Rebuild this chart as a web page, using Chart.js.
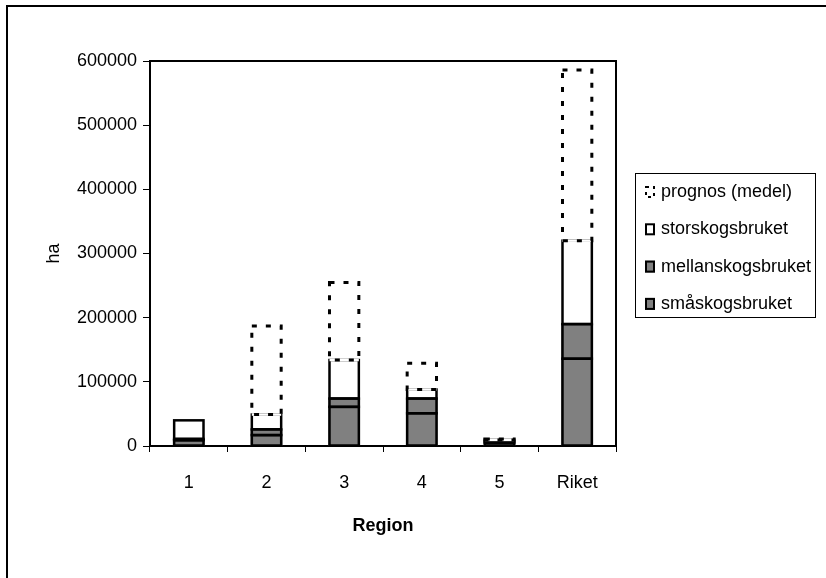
<!DOCTYPE html>
<html>
<head>
<meta charset="utf-8">
<script src="https://cdn.jsdelivr.net/npm/chart.js@4/dist/chart.umd.min.js"></script>
<style>
  body { margin: 0; background: #fff; }
  #wrap { width: 826px; height: 578px; }
</style>
</head>
<body>
<div id="wrap"><canvas id="myChart" width="826" height="578"></canvas></div>
<script>
// hektar per region, stapled
const regions = ["1", "2", "3", "4", "5", "Riket"];
const smaskog = [9000, 17000, 61000, 51000, 5000, 136000];
const mellanskog = [2000, 9000, 13000, 23000, 2000, 54000];
const storskog = [29000, 23000, 60000, 14000, 2500, 130000];
const prognos = [0, 138000, 121000, 41000, 1500, 266000];
const yTicks = [0, 100000, 200000, 300000, 400000, 500000, 600000];

Chart.defaults.font.family = "'Liberation Sans', Arial, sans-serif";
Chart.defaults.font.size = 18;
Chart.defaults.color = "#000";

// white page with the frame on left and top
const framePlugin = {
  id: "frame",
  beforeDraw(chart) {
    const ctx = chart.ctx;
    ctx.save();
    ctx.fillStyle = "#fff";
    ctx.fillRect(0, 0, chart.width, chart.height);
    ctx.strokeStyle = "#000";
    ctx.lineWidth = 2;
    ctx.beginPath();
    ctx.moveTo(7, chart.height);
    ctx.lineTo(7, 6);
    ctx.lineTo(chart.width, 6);
    ctx.stroke();
    ctx.restore();
  },
};

// outlines the stacked segments, dashed for prognos, + box around the plot
const extrasPlugin = {
  id: "extras",
  afterDatasetsDraw(chart) {
    const ctx = chart.ctx;
    const area = chart.chartArea;
    ctx.save();
    ctx.strokeStyle = "#000";
    ctx.lineWidth = 2;
    ctx.beginPath();
    ctx.moveTo(area.left, area.top);
    ctx.lineTo(area.right, area.top);
    ctx.lineTo(area.right, area.bottom);
    ctx.stroke();

    chart.data.datasets.forEach((ds, di) => {
      const meta = chart.getDatasetMeta(di);
      meta.data.forEach((bar, i) => {
        if (!ds.data[i]) return;
        const p = bar.getProps(["x", "y", "base", "width"], true);
        const x0 = p.x - p.width / 2 + 1.25;
        if (ds.dashed) {
          // white under the dashes so the segment below shows gaps
          ctx.setLineDash([]);
          ctx.lineWidth = 2.5;
          ctx.strokeStyle = "#fff";
          ctx.beginPath();
          ctx.moveTo(x0, p.base);
          ctx.lineTo(x0 + p.width - 2.5, p.base);
          ctx.stroke();
          ctx.strokeStyle = "#000";
          ctx.lineWidth = 3;
          ctx.setLineDash([5, 9]);
        } else {
          ctx.lineWidth = 2.5;
          ctx.setLineDash([]);
        }
        ctx.strokeRect(x0, p.y, p.width - 2.5, p.base - p.y);
      });
    });
    ctx.restore();
  },
};

// legend drawn as a framed box to the right
const legendPlugin = {
  id: "boxLegend",
  afterDraw(chart) {
    const ctx = chart.ctx;
    const area = chart.chartArea;
    const left = area.right + 19;
    const top = 173;
    const w = 180, h = 144;
    ctx.save();
    ctx.strokeStyle = "#000";
    ctx.lineWidth = 1;
    ctx.strokeRect(left + 0.5, top + 0.5, w, h);
    const items = chart.data.datasets.slice().reverse();
    ctx.font = "18px 'Liberation Sans', Arial, sans-serif";
    ctx.textBaseline = "middle";
    items.forEach((ds, i) => {
      const cy = top + 19 + i * 37.3;
      const bx = left + 10;
      if (ds.dashed) {
        ctx.lineWidth = 2;
        ctx.setLineDash([3, 4]);
        ctx.strokeRect(bx + 1, cy - 5, 8, 10);
        ctx.setLineDash([]);
      } else {
        ctx.fillStyle = ds.backgroundColor;
        ctx.fillRect(bx, cy - 6, 10, 12);
        ctx.lineWidth = 2;
        ctx.strokeRect(bx + 1, cy - 5, 8, 10);
      }
      ctx.fillStyle = "#000";
      ctx.fillText(ds.label, left + 26, cy);
    });
    ctx.restore();
  },
};

const data = {
  labels: regions,
  datasets: [
    {
      label: "småskogsbruket",
      data: smaskog,
      backgroundColor: "#808080",
      borderWidth: 0,
    },
    {
      label: "mellanskogsbruket",
      data: mellanskog,
      backgroundColor: "#808080",
      borderWidth: 0,
    },
    {
      label: "storskogsbruket",
      data: storskog,
      backgroundColor: "#fff",
      borderWidth: 0,
    },
    {
      label: "prognos (medel)",
      data: prognos,
      backgroundColor: "rgba(0,0,0,0)",
      borderWidth: 0,
      dashed: true,
    },
  ],
};

const config = {
  type: "bar",
  data: data,
  options: {
    responsive: false,
    animation: false,
    categoryPercentage: 1,
    barPercentage: 0.41,
    layout: {
      padding: { left: 8, top: 61, right: 210, bottom: 20 },
    },
    scales: {
      x: {
        stacked: true,
        afterFit: (s) => { s.height = 112; },
        border: { color: "#000", width: 2 },
        grid: {
          offset: true,
          drawOnChartArea: false,
          tickLength: 6,
          color: "#000",
        },
        ticks: { padding: 20 },
        title: {
          display: true,
          text: "Region",
          font: { size: 18, weight: "bold" },
          padding: { top: 0, bottom: 21 },
        },
      },
      y: {
        stacked: true,
        min: 0,
        max: 600000,
        afterFit: (s) => { s.width = 142; },
        afterBuildTicks: (s) => { s.ticks = yTicks.map((v) => ({ value: v })); },
        border: { color: "#000", width: 2 },
        grid: {
          drawOnChartArea: false,
          tickLength: 7,
          color: "#000",
        },
        ticks: { padding: 6, callback: (v) => String(v) },
        title: {
          display: true,
          text: "ha",
          font: { size: 18 },
          padding: { top: 35, bottom: 0 },
        },
      },
    },
    plugins: {
      legend: { display: false },
      tooltip: { enabled: false },
    },
  },
  plugins: [framePlugin, extrasPlugin, legendPlugin],
};

const myChart = new Chart(document.getElementById("myChart"), config);
</script>
</body>
</html>
